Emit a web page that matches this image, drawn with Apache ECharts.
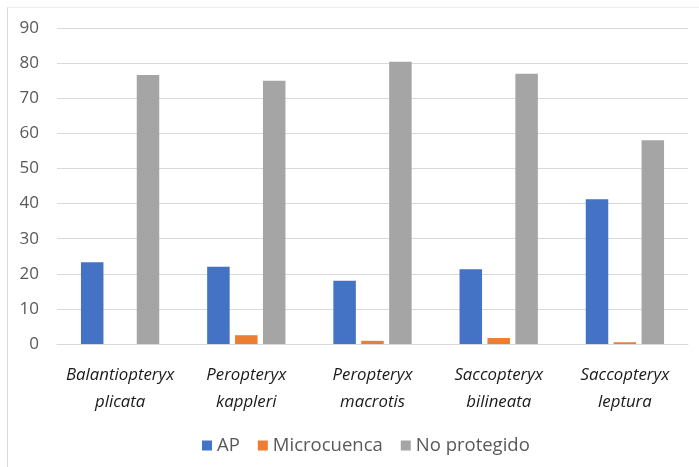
<!DOCTYPE html>
<html><head><meta charset="utf-8">
<script src="https://cdn.jsdelivr.net/npm/echarts@6/dist/echarts.min.js"></script>
<style>html,body{margin:0;padding:0;background:#fff}#c{width:699px;height:467px}
#frame{position:absolute;left:7px;top:7px;width:700px;height:470px;border-left:1px solid #d9d9d9;border-top:1px solid #ececec;pointer-events:none}</style>
</head><body><div id="c"></div><div id="frame"></div>
<script>
const categories = ["Balantiopteryx\nplicata", "Peropteryx\nkappleri", "Peropteryx\nmacrotis", "Saccopteryx\nbilineata", "Saccopteryx\nleptura"];
const seriesNames = ["AP", "Microcuenca", "No protegido"];
const apValues = [23.3, 22.0, 18.0, 21.3, 41.2];
const microValues = [0, 2.5, 0.9, 1.7, 0.5];
const noProtValues = [76.6, 75.0, 80.4, 77.0, 58.0];
const yTicks = [0, 10, 20, 30, 40, 50, 60, 70, 80, 90];
const colors = ["#4472C4", "#ED7D31", "#A5A5A5"];
const font = "'Open Sans', 'Noto Sans', sans-serif";
const chart = echarts.init(document.getElementById('c'));
const vals = [apValues, microValues, noProtValues];
chart.setOption({
  animation: false,
  color: colors,
  grid: {left: 57, right: 11, top: 28, bottom: 123},
  legend: {
    top: 431, left: 197, itemWidth: 10, itemHeight: 10, itemGap: 18,
    icon: 'rect',
    textStyle: {color: '#595959', fontSize: 18.5, fontFamily: font}
  },
  xAxis: {
    type: 'category', data: categories,
    axisLine: {lineStyle: {color: '#d9d9d9', width: 1}},
    axisTick: {show: false},
    axisLabel: {interval: 0, color: '#1a1a1a', fontSize: 16.8, fontStyle: 'italic', fontFamily: font, lineHeight: 27, margin: 18}
  },
  yAxis: {
    type: 'value', min: 0, max: 90, interval: 10,
    axisLine: {show: false}, axisTick: {show: false},
    splitLine: {lineStyle: {color: '#d9d9d9', width: 1}},
    axisLabel: {color: '#595959', fontSize: 17, fontFamily: font, margin: 18,
      formatter: v => yTicks.includes(v) ? String(v) : ''}
  },
  series: seriesNames.map((n, i) => ({
    name: n, type: 'bar', data: vals[i], barWidth: 22.5, barGap: '24%'
  }))
});
</script></body></html>
